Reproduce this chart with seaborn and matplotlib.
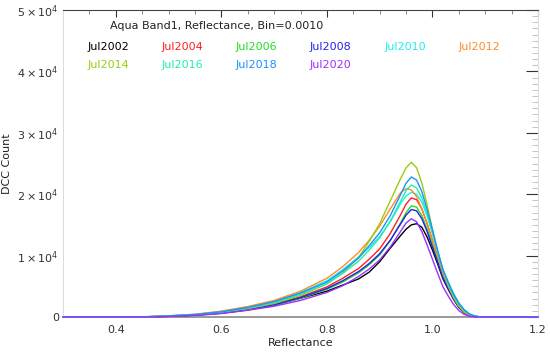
import numpy as np
import pandas as pd
import matplotlib
matplotlib.use("Agg")
import matplotlib.pyplot as plt
import seaborn as sns
from matplotlib.ticker import MultipleLocator, FuncFormatter

# reflectance grid (bin centres)
refl = [0.30, 0.45, 0.50, 0.55, 0.60, 0.65, 0.70, 0.75, 0.80, 0.83, 0.86, 0.88,
        0.90, 0.92, 0.94, 0.95, 0.96, 0.97, 0.98, 0.99, 1.00, 1.01, 1.02,
        1.03, 1.04, 1.05, 1.06, 1.07, 1.08, 1.09, 1.10, 1.20]

jul2002 = [0, 15, 120, 300, 620, 1150, 1950, 3050, 4200, 5200, 6200, 7300,
           9000, 11200, 13300, 14300, 15000, 15200, 14600, 13000, 10900, 8600, 6200,
           4500, 2900, 1550, 720, 240, 70, 12, 0, 0]
jul2004 = [0, 15, 130, 320, 700, 1300, 2100, 3300, 4900, 6300, 7900, 9400,
           11100, 13600, 16700, 18400, 19400, 19100, 17600, 15200, 12500, 9700, 7000,
           5050, 3250, 1800, 870, 320, 100, 20, 0, 0]
jul2006 = [0, 10, 110, 290, 640, 1200, 1950, 3050, 4500, 5700, 7200, 8500,
           10100, 12400, 15400, 17000, 18100, 17900, 16500, 14300, 11800, 9200, 6600,
           4850, 3100, 1750, 840, 300, 100, 20, 0, 0]
jul2008 = [0, 10, 115, 300, 660, 1230, 2000, 3150, 4650, 5900, 7400, 8700,
           10300, 12500, 15200, 16600, 17500, 17300, 16000, 13900, 11400, 8900, 6400,
           4600, 3000, 1700, 800, 290, 90, 18, 0, 0]
jul2010 = [0, 25, 190, 430, 900, 1600, 2600, 4000, 5900, 7700, 9800, 11300,
           13100, 15500, 18500, 19700, 20300, 20000, 18700, 16400, 13600, 10600, 7700,
           5700, 3850, 2350, 1230, 510, 180, 30, 0, 0]
jul2012 = [0, 30, 200, 450, 950, 1700, 2700, 4200, 6300, 8200, 10500, 12500,
           14800, 17600, 20300, 20900, 20700, 19600, 17600, 15200, 12500, 9800, 7000,
           5050, 3250, 1750, 800, 290, 80, 15, 0, 0]
jul2014 = [0, 20, 150, 350, 750, 1350, 2200, 3500, 5400, 7200, 9700, 12300,
           15200, 18900, 22600, 24300, 25200, 24300, 21800, 18200, 14300, 10500, 7500,
           5100, 3200, 1800, 850, 330, 100, 20, 0, 0]
jul2016 = [0, 20, 160, 380, 800, 1450, 2350, 3700, 5400, 7100, 9100, 10900,
           12900, 15600, 18900, 20600, 21500, 21000, 19400, 16800, 13700, 10500, 7500,
           5500, 3600, 2100, 1090, 450, 140, 25, 0, 0]
jul2018 = [0, 20, 170, 400, 850, 1550, 2500, 3900, 5700, 7500, 9600, 11600,
           13700, 16500, 20000, 21800, 22800, 22300, 20400, 17500, 14200, 10800, 7700,
           5600, 3700, 2200, 1160, 480, 160, 30, 0, 0]
jul2020 = [0, 5, 80, 240, 560, 1100, 1750, 2700, 4000, 5100, 6600, 7800,
           9300, 11400, 14000, 15300, 16000, 15500, 13900, 11700, 9400, 7100, 4900,
           3400, 2050, 1050, 440, 130, 30, 5, 0, 0]

labels = ['Jul2002', 'Jul2004', 'Jul2006', 'Jul2008', 'Jul2010',
          'Jul2012', 'Jul2014', 'Jul2016', 'Jul2018', 'Jul2020']
series = [jul2002, jul2004, jul2006, jul2008, jul2010,
          jul2012, jul2014, jul2016, jul2018, jul2020]
colors = ['#000000', '#ff2020', '#22dd22', '#2222ee', '#22eeee',
          '#ff8c28', '#99cc11', '#22eeaa', '#1e90ff', '#9b30ff']

df = pd.concat([
    pd.DataFrame({'Reflectance': refl, 'Count': s, 'Month': lab})
    for lab, s in zip(labels, series)
])

sns.set_style("white")
plt.rcParams['font.family'] = ['DejaVu Sans']

fig = plt.figure(figsize=(5.5, 3.52), dpi=100)
ax = fig.add_axes([63 / 550, 35 / 352, 475 / 550, 307 / 352])

sns.lineplot(
    data=df,
    x='Reflectance',
    y='Count',
    hue='Month',
    palette=dict(zip(labels, colors)),
    linewidth=1.0,
    legend=False,
    zorder=3,
    clip_on=False,
    ax=ax
)

ax.set_xlim(0.3, 1.2)
ax.set_ylim(0, 50000)

ax.xaxis.set_major_locator(MultipleLocator(0.2))
ax.xaxis.set_minor_locator(MultipleLocator(0.05))
ax.yaxis.set_major_locator(MultipleLocator(10000))
ax.yaxis.set_minor_locator(MultipleLocator(1000))


def yfmt(v, pos):
    if v == 0:
        return '0'
    return r'$%d\times10^{4}$' % round(v / 10000)


ax.xaxis.set_major_formatter(FuncFormatter(lambda v, p: '%.1f' % v))
ax.yaxis.set_major_formatter(FuncFormatter(yfmt))

ax.tick_params(axis='both', which='both', direction='in',
               top=True, right=True, labelsize=8, colors='#333333')
ax.tick_params(axis='x', which='major', length=5, width=0.8, pad=6)
ax.tick_params(axis='x', which='minor', length=3, width=0.6, colors='#777777')
ax.tick_params(axis='y', which='major', length=9, width=0.8, pad=3)
ax.tick_params(axis='y', which='minor', length=4, width=0.6, colors='#bbbbbb')

ax.spines['top'].set_color('#444444')
ax.spines['bottom'].set_color('#888888')
ax.spines['bottom'].set_linewidth(1.2)
ax.spines['left'].set_color('#dddddd')
ax.spines['right'].set_color('#dddddd')

ax.set_xlabel('Reflectance', fontsize=8, color='#222222', labelpad=2)
ax.set_ylabel('DCC Count', fontsize=8, color='#222222', labelpad=4)

ax.text(0.099, 0.948, 'Aqua Band1, Reflectance, Bin=0.0010',
        transform=ax.transAxes, fontsize=8, va='center', color='#222222')

col_x = [0.0526, 0.2084, 0.364, 0.52, 0.676, 0.832]
for i, (lab, c) in enumerate(zip(labels, colors)):
    row, col = divmod(i, 6)
    ax.text(col_x[col], 0.879 - row * 0.058, lab, transform=ax.transAxes,
            fontsize=8, va='center', color=c)

fig.savefig('out.png', dpi=100)
